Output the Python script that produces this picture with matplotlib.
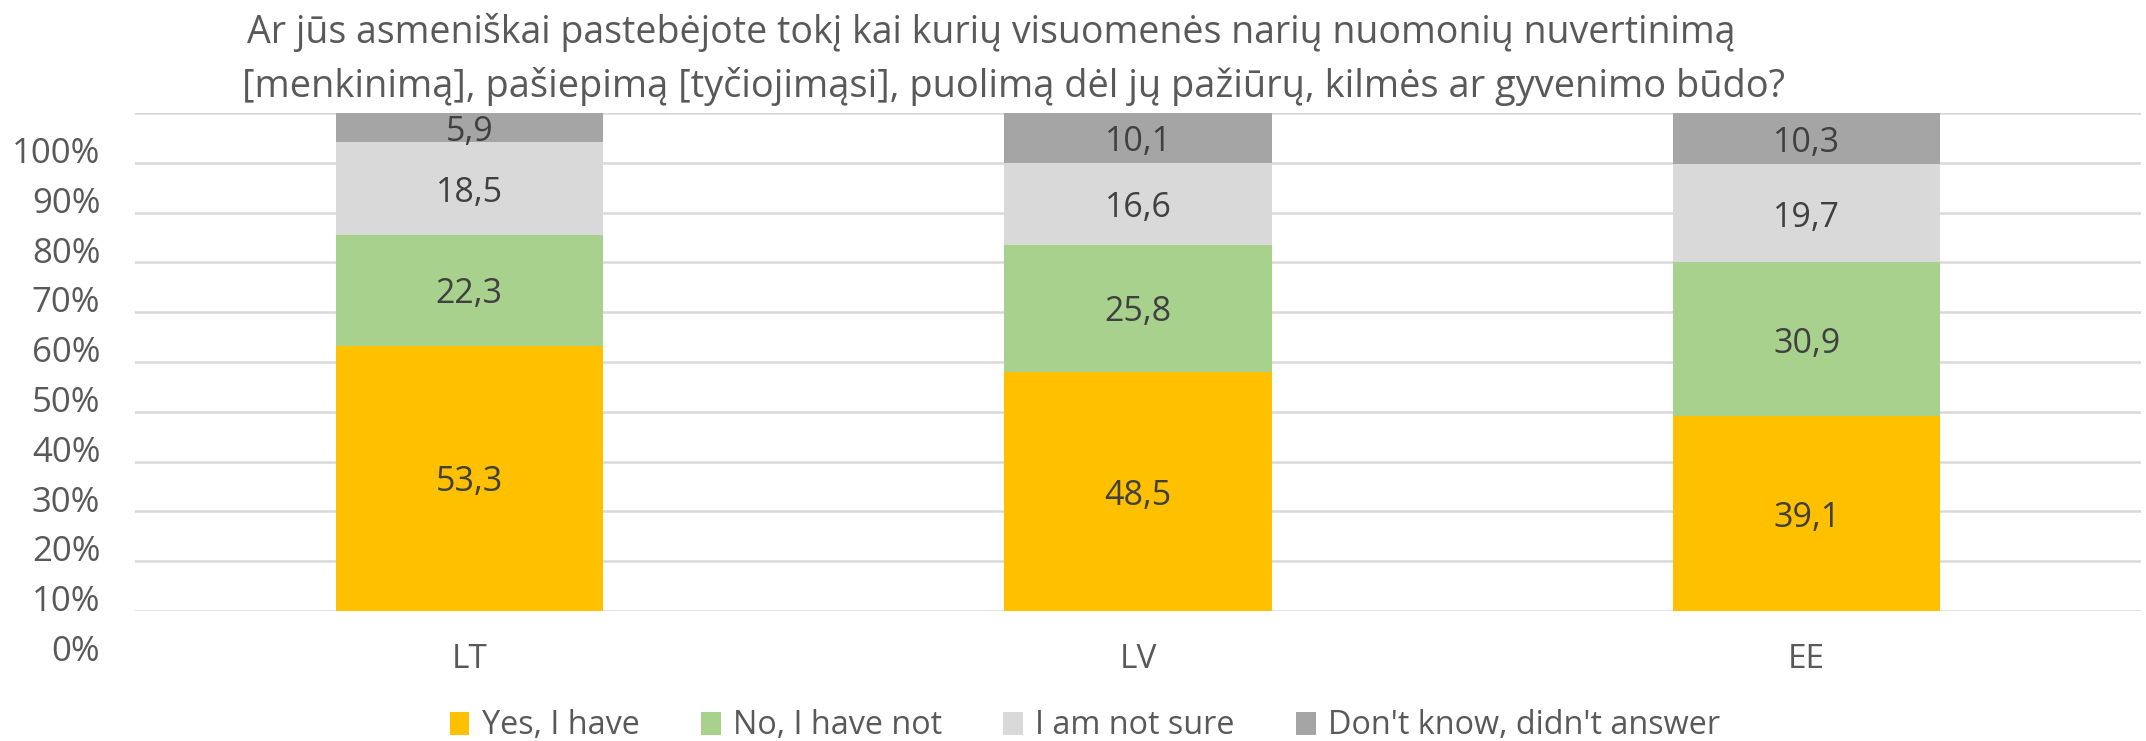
import numpy as np
import matplotlib
matplotlib.use("Agg")
import matplotlib.pyplot as plt
from matplotlib.transforms import ScaledTranslation
from matplotlib.patches import Patch

plt.rcParams['font.family'] = ['Open Sans', 'DejaVu Sans']

countries = ['LT', 'LV', 'EE']
series = ['Yes, I have', 'No, I have not', 'I am not sure', "Don't know, didn't answer"]
yes_have = [53.3, 48.5, 39.1]
no_have_not = [22.3, 25.8, 30.9]
not_sure = [18.5, 16.6, 19.7]
dont_know = [5.9, 10.1, 10.3]
colors = ['#FFC000', '#A9D18E', '#D9D9D9', '#A5A5A5']

title_1 = "Ar jūs asmeniškai pastebėjote tokį kai kurių visuomenės narių nuomonių nuvertinimą"
title_2 = "[menkinimą], pašiepimą [tyčiojimąsi], puolimą dėl jų pažiūrų, kilmės ar gyvenimo būdo?"

values = np.array([yes_have, no_have_not, not_sure, dont_know])
shares = values / values.sum(axis=0) * 100  # 100% stacked

W, H = 2146, 741
fig = plt.figure(figsize=(W / 100, H / 100), dpi=100)
ax = fig.add_axes([135 / W, 1 - 611 / H, (2141 - 135) / W, (611 - 113) / H])

x = np.arange(len(countries))
bottom = np.zeros(len(countries))
for i in range(len(series)):
    bars = ax.bar(x, shares[i], 0.40, bottom=bottom, color=colors[i], zorder=2)
    ax.bar_label(bars, labels=[f"{v:.1f}".replace('.', ',') for v in values[i]],
                 label_type='center', padding=-3, fontsize=24.5, color='#404040')
    bottom += shares[i]

ax.set_xlim(-0.5, 2.5)
ax.set_ylim(0, 100)
ax.set_yticks(np.arange(0, 101, 10))
ax.set_yticklabels([f"{t}%" for t in range(0, 101, 10)])
ax.grid(axis='y', color='#D9D9D9', linewidth=1.8, zorder=0)
ax.set_axisbelow(True)
for s in ax.spines.values():
    s.set_visible(False)
ax.tick_params(axis='y', length=0, pad=25, labelsize=25, labelcolor='#595959')
ax.tick_params(axis='x', length=0, pad=23, labelsize=24, labelcolor='#595959')
ax.set_xticks(x)
ax.set_xticklabels(countries)

# tick labels sit a bit below their gridlines in the original
shift = ScaledTranslation(0, -0.37, fig.dpi_scale_trans)
for lab in ax.get_yticklabels():
    lab.set_transform(lab.get_transform() + shift)

fig.text(991 / W, 1 - 43 / H, title_1, ha='center', va='baseline', fontsize=27, color='#595959')
fig.text(1014 / W, 1 - 97 / H, title_2, ha='center', va='baseline', fontsize=27.4, color='#595959')

handles = [Patch(facecolor=c) for c in colors]
fig.legend(handles, series, loc='center', bbox_to_anchor=(1085 / W, 15 / H),
           ncol=4, frameon=False, fontsize=23.3, labelcolor='#595959',
           handlelength=0.6, handleheight=0.7, handletextpad=0.38, columnspacing=1.9,
           borderaxespad=0, borderpad=0)

fig.savefig('out.png', dpi=100)
